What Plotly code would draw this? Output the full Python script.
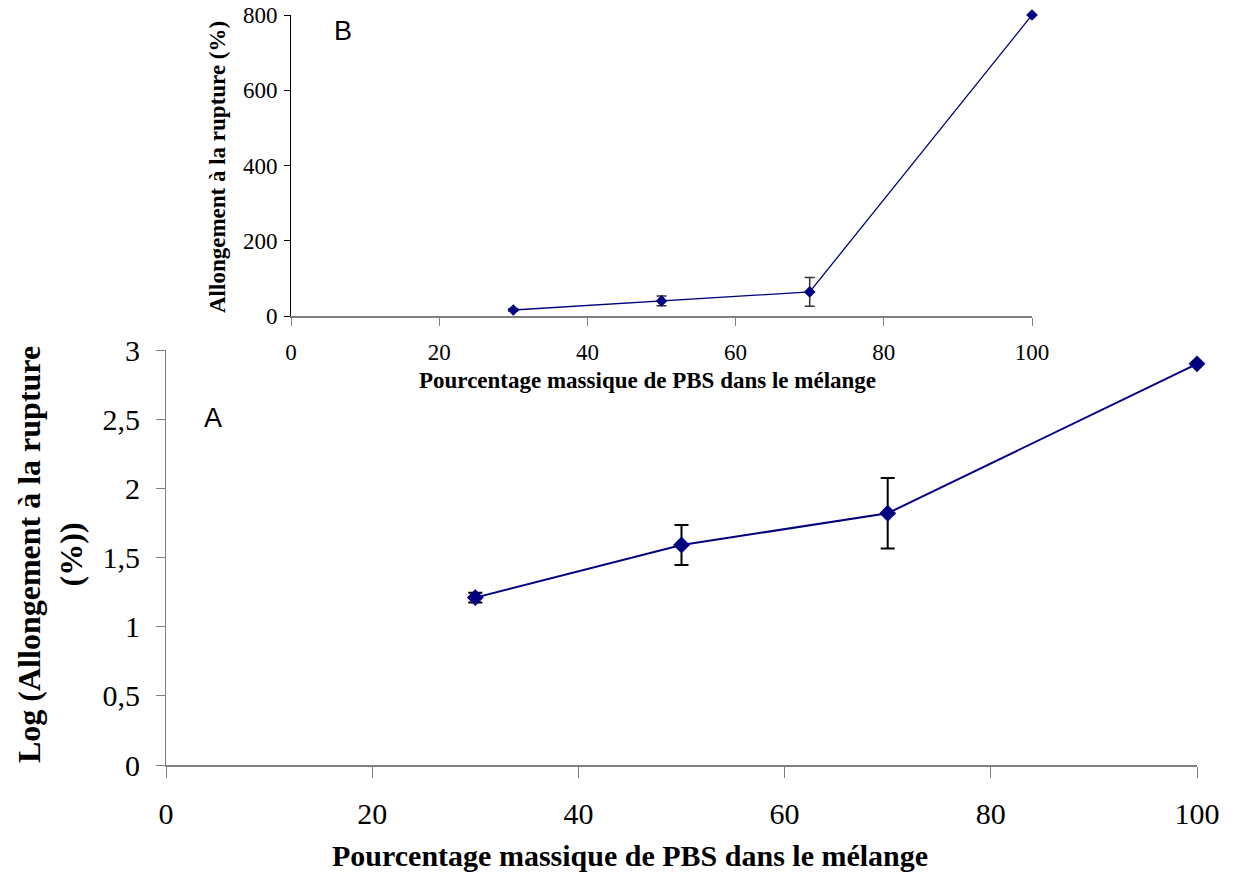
import plotly.graph_objects as go

# Data
pbs_pct = [30, 50, 70, 100]
log_elong = [1.21, 1.59, 1.82, 2.90]
log_elong_err = [0.036, 0.145, 0.255, 0.0]
elong = [16, 40, 64, 800]
elong_err = [3, 13, 38, 0]

x_ticks = [0, 20, 40, 60, 80, 100]
a_y_ticks = [0, 0.5, 1, 1.5, 2, 2.5, 3]
a_y_ticktext = ["0", "0,5", "1", "1,5", "2", "2,5", "3"]
b_y_ticks = [0, 200, 400, 600, 800]

NAVY = "#000080"
AXIS = "#808080"
SERIF = "Liberation Serif, Times New Roman, serif"
SANS = "Liberation Sans, Arial, sans-serif"

W, H = 1234, 872
OFF = 8  # page body margin


def px(X):
    return (X - OFF) / W


def py(Y):
    return 1 - (Y - OFF) / H


fig = go.Figure()

# Main chart A
fig.add_trace(go.Scatter(
    x=pbs_pct, y=log_elong, mode="lines+markers",
    line=dict(color=NAVY, width=2),
    marker=dict(symbol="diamond", size=13, color=NAVY),
    error_y=dict(type="data", array=log_elong_err, visible=True,
                 color="black", thickness=2, width=7),
    cliponaxis=False, xaxis="x", yaxis="y", showlegend=False,
))

# Inset chart B
fig.add_trace(go.Scatter(
    x=pbs_pct, y=elong, mode="lines+markers",
    line=dict(color=NAVY, width=1.3),
    marker=dict(symbol="diamond", size=9, color=NAVY),
    error_y=dict(type="data", array=elong_err, visible=True,
                 color="#333333", thickness=1.5, width=5),
    cliponaxis=False, xaxis="x2", yaxis="y2", showlegend=False,
))

fig.update_layout(
    width=W, height=H,
    margin=dict(l=0, r=0, t=0, b=0, autoexpand=False),
    paper_bgcolor="white", plot_bgcolor="rgba(0,0,0,0)",
    xaxis=dict(domain=[px(166), px(1197)], range=[0, 100], tickvals=x_ticks,
               automargin=False, ticklabeloverflow="allow",
               showgrid=False, zeroline=False, showline=True, linecolor=AXIS, linewidth=2,
               ticks="outside", ticklen=11, tickcolor=AXIS, tickwidth=1,
               ticklabelstandoff=10,
               tickfont=dict(family=SERIF, size=30, color="black"), anchor="y"),
    yaxis=dict(domain=[py(765), py(350)], range=[0, 3], tickvals=a_y_ticks,
               ticktext=a_y_ticktext, automargin=False, ticklabeloverflow="allow",
               showgrid=False, zeroline=False, showline=True, linecolor=AXIS, linewidth=1,
               ticks="outside", ticklen=9, tickcolor=AXIS, tickwidth=1,
               ticklabelstandoff=10,
               tickfont=dict(family=SERIF, size=30, color="black"), anchor="x"),
    xaxis2=dict(domain=[px(291), px(1032)], range=[0, 100], tickvals=x_ticks,
                automargin=False, ticklabeloverflow="allow",
                showgrid=False, zeroline=False, showline=True, linecolor=AXIS, linewidth=2,
                ticks="outside", ticklen=8, tickcolor=AXIS, tickwidth=1,
                ticklabelstandoff=6,
                tickfont=dict(family=SERIF, size=23, color="black"), anchor="y2"),
    yaxis2=dict(domain=[py(316), py(15)], range=[0, 800], tickvals=b_y_ticks,
                automargin=False, ticklabeloverflow="allow",
                showgrid=False, zeroline=False, showline=True, linecolor="black", linewidth=1,
                ticks="outside", ticklen=6, tickcolor="black", tickwidth=1,
                ticklabelstandoff=2,
                tickfont=dict(family=SERIF, size=23, color="black"), anchor="x2"),
)

annotations = [
    # Main axis titles
    dict(text="<b>Pourcentage massique de PBS dans le mélange</b>",
         x=px(630), y=py(855), xref="paper", yref="paper",
         showarrow=False, font=dict(family=SERIF, size=30, color="black"),
         xanchor="center", yanchor="middle"),
    dict(text="<b>Log (Allongement à la rupture<br>(%))</b>",
         x=px(50), y=py(555), xref="paper", yref="paper",
         showarrow=False, textangle=-90, font=dict(family=SERIF, size=32, color="black"),
         xanchor="center", yanchor="middle"),
    # Inset axis titles
    dict(text="<b>Pourcentage massique de PBS dans le mélange</b>",
         x=px(647), y=py(381), xref="paper", yref="paper",
         showarrow=False, font=dict(family=SERIF, size=23, color="black"),
         xanchor="center", yanchor="middle"),
    dict(text="<b>Allongement à la rupture (%)</b>",
         x=px(217), y=py(167), xref="paper", yref="paper",
         showarrow=False, textangle=-90, font=dict(family=SERIF, size=23, color="black"),
         xanchor="center", yanchor="middle"),
    # Panel letters
    dict(text="A", x=px(213), y=py(418), xref="paper", yref="paper",
         showarrow=False, font=dict(family=SANS, size=27, color="black"),
         xanchor="center", yanchor="middle"),
    dict(text="B", x=px(343), y=py(31), xref="paper", yref="paper",
         showarrow=False, font=dict(family=SANS, size=27, color="black"),
         xanchor="center", yanchor="middle"),
]
fig.update_layout(annotations=annotations)

fig.write_html("out.html")
